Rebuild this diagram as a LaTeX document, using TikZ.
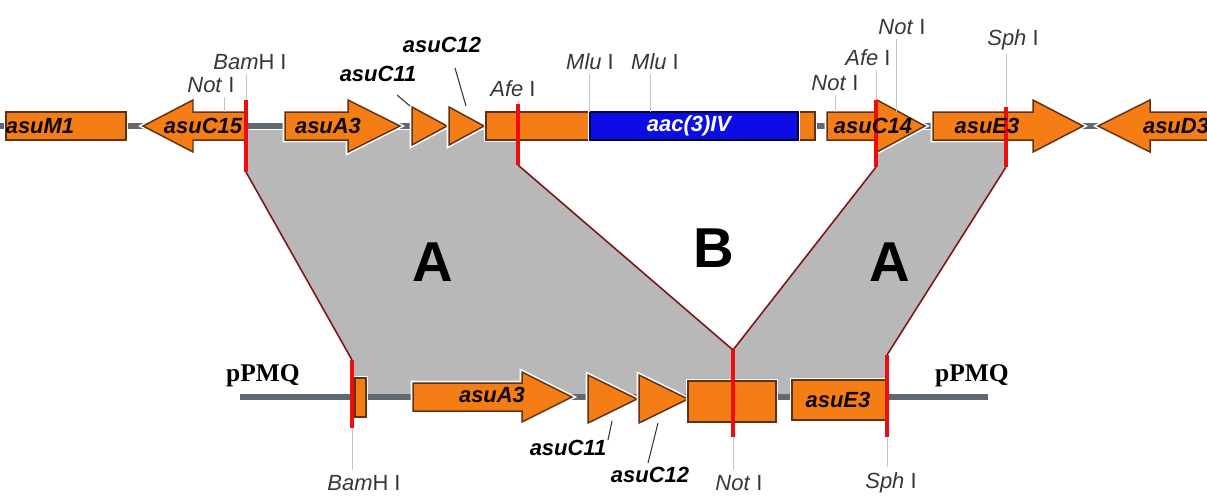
\documentclass[tikz,border=0pt]{standalone}
\usepackage{fontspec}
\setmainfont{Liberation Sans}
\newfontfamily\pmqfont{Liberation Serif}

\definecolor{geneor}{RGB}{245,125,22}
\definecolor{geneln}{RGB}{95,50,20}
\definecolor{aacblue}{RGB}{12,12,228}
\definecolor{mapgray}{RGB}{184,184,184}
\definecolor{spine}{RGB}{98,104,112}
\definecolor{cutred}{RGB}{238,12,12}
\definecolor{rimred}{RGB}{125,22,22}
\definecolor{sitetxt}{RGB}{55,55,55}

\begin{document}
\begin{tikzpicture}[x=0.02cm, y=-0.02cm,
	gene/.style={fill=geneor, draw=geneln, line width=0.85pt, preaction={draw=white, line width=2.6pt}},
	glabel/.style={font=\fontsize{12.5}{14}\selectfont\bfseries\itshape, text=black!85!geneln, inner sep=0pt},
	site/.style={font=\fontsize{12.5}{14}\selectfont, text=sitetxt, inner sep=0pt},
	tick/.style={draw=gray!45, line width=0.55pt},
	ptr/.style={draw=black!80, line width=0.6pt},
	cut/.style={draw=cutred, line width=2.7pt},
	rim/.style={draw=rimred, line width=0.9pt},
	track/.style={draw=spine, line width=3.2pt},
	big/.style={font=\fontsize{32}{36}\selectfont\bfseries, inner sep=0pt},
	vec/.style={font=\pmqfont\fontsize{14.5}{16}\selectfont\bfseries, inner sep=0pt}]
	\useasboundingbox (0,0) rectangle (1207,495);

	% cut sites (red) and track ends
	\coordinate (bamA) at (246,100);  \coordinate (bamB) at (246,172);
	\coordinate (afeA) at (518,104);  \coordinate (afeB) at (518,165);
	\coordinate (afe2A) at (876,100); \coordinate (afe2B) at (876,167);
	\coordinate (sphA) at (1006,107); \coordinate (sphB) at (1006,167);
	\coordinate (bamC) at (352,360);  \coordinate (bamD) at (352,428);
	\coordinate (notC) at (733,350);  \coordinate (notD) at (733,437);
	\coordinate (sphC) at (887,355);  \coordinate (sphD) at (887,437);
	\coordinate (topL) at (0,126);    \coordinate (topR) at (1207,126);
	\coordinate (botL) at (240,397);  \coordinate (botR) at (988,397);

	% shared regions
	\fill[mapgray] (246,130) -- (518,130) -- (afeB) -- (notC) -- (afe2B) -- (876,130) -- (1006,130)
		-- (sphB) -- (sphC) -- (887,397) -- (352,397) -- (bamC) -- (bamB) -- cycle;
	\draw[rim] (bamB) -- (bamC);
	\draw[rim] (afeB) -- (notC);
	\draw[rim] (afe2B) -- (notC);
	\draw[rim] (sphB) -- (sphC);

	\draw[track] (topL) -- (topR);
	\draw[track] (botL) -- (botR);

	% upper map
	\draw[gene] (6,112) rectangle (126,140);
	\foreach \a/\b/\c in {245/193/143, 285/348/400, 827/877/925, 933/1033/1083, 1212/1150/1098}
		\draw[gene] (\a,112) -- (\b,112) -- (\b,100) -- (\c,126) -- (\b,152) -- (\b,140) -- (\a,140) -- cycle;
	\foreach \a in {412, 449}
		\draw[gene] (\a,107) -- (\a+35,126) -- (\a,145) -- cycle;
	\draw[gene] (486,112) rectangle (590,140);
	\draw[gene] (798,112) rectangle (815,140);
	\draw[gene, fill=aacblue, draw=black!70!aacblue] (590,112) rectangle (798,140);

	% lower map
	\draw[gene] (355,378) rectangle (366,417);
	\draw[gene] (413,383) -- (522,383) -- (522,372) -- (572,397) -- (522,422) -- (522,411) -- (413,411) -- cycle;
	\foreach \a in {588, 639}
		\draw[gene] (\a,375) -- (\a+49,399) -- (\a,423) -- cycle;
	\draw[gene] (688,381) rectangle (776,422);
	\draw[gene] (792,380) rectangle (887,420);

	\foreach \p/\q in {bamA/bamB, afeA/afeB, afe2A/afe2B, sphA/sphB, bamC/bamD, notC/notD, sphC/sphD}
		\draw[cut] (\p) -- (\q);

	% gene names
	\node[glabel] (gM1) at (40,126) {asuM1};
	\node[glabel] (gC15) at (203,126) {asuC15};
	\node[glabel] (gA3) at (328,126) {asuA3};
	\node[glabel, text=white] (gAac) at (689,126) {aac(3)IV};
	\node[glabel] (gC14) at (873,126) {asuC14};
	\node[glabel] (gE3) at (987,126) {asuE3};
	\node[glabel] (gD3) at (1176,126) {asuD3};
	\node[glabel] (gA3b) at (492,395) {asuA3};
	\node[glabel] (gE3b) at (838,400) {asuE3};
	\node[glabel, text=black] (gC11) at (378,74) {asuC11};
	\node[glabel, text=black] (gC12) at (442,45) {asuC12};
	\node[glabel, text=black] (gC11b) at (568,448) {asuC11};
	\node[glabel, text=black] (gC12b) at (650,475) {asuC12};
	\coordinate (c11a) at (397,95);  \coordinate (c11b) at (410,106);
	\coordinate (c12a) at (455,68);  \coordinate (c12b) at (466,106);
	\coordinate (c11c) at (608,440); \coordinate (c11d) at (612,421);
	\coordinate (c12c) at (648,463); \coordinate (c12d) at (658,423);
	\draw[ptr] (c11a) -- (c11b);
	\draw[ptr] (c12a) -- (c12b);
	\draw[ptr] (c11c) -- (c11d);
	\draw[ptr] (c12c) -- (c12d);

	% restriction sites
	\coordinate (not1) at (224,112);
	\coordinate (mlu1) at (589,112);
	\coordinate (mlu2) at (650,112);
	\coordinate (not2) at (835,112);
	\coordinate (not3) at (896,112);
	\node[site] (sNot1) at (211,85) {\textit{Not} I};
	\node[site] (sBam) at (250,62) {\textit{Bam}H I};
	\node[site] (sAfe) at (513,89) {\textit{Afe} I};
	\node[site] (sMlu1) at (590,62) {\textit{Mlu} I};
	\node[site] (sMlu2) at (655,62) {\textit{Mlu} I};
	\node[site] (sNot2) at (835,83) {\textit{Not} I};
	\node[site] (sAfe2) at (868,58) {\textit{Afe} I};
	\node[site] (sNot3) at (902,27) {\textit{Not} I};
	\node[site] (sSph) at (1013,40) {\textit{Sph} I};
	\node[site] (sBamb) at (364,483) {\textit{Bam}H I};
	\node[site] (sNotb) at (739,483) {\textit{Not} I};
	\node[site] (sSphb) at (891,483) {\textit{Sph} I};
	\draw[tick] ([yshift=-2pt]sNot1.south -| not1) -- (not1);
	\draw[tick] ([yshift=-2pt]sBam.south -| bamA) -- (bamA);
	\draw[tick] ([yshift=-2pt]sAfe.south -| afeA) -- (afeA);
	\draw[tick] ([yshift=-2pt]sMlu1.south -| mlu1) -- (mlu1);
	\draw[tick] ([yshift=-2pt]sMlu2.south -| mlu2) -- (mlu2);
	\draw[tick] ([yshift=-2pt]sNot2.south -| not2) -- (not2);
	\draw[tick] ([yshift=-2pt]sAfe2.south -| afe2A) -- (afe2A);
	\draw[tick] ([yshift=-2pt]sNot3.south -| not3) -- (not3);
	\draw[tick] ([yshift=-2pt]sSph.south -| sphA) -- (sphA);
	\draw[tick] (bamD) -- ([yshift=3pt]sBamb.north -| bamD);
	\draw[tick] (notD) -- ([yshift=3pt]sNotb.north -| notD);
	\draw[tick] (sphD) -- ([yshift=3pt]sSphb.north -| sphD);

	% block names and vector
	\node[big] (blkA1) at (433,262) {A};
	\node[big] (blkB) at (714,248) {B};
	\node[big] (blkA2) at (890,262) {A};
	\node[vec] (pmq1) at (263,376) {pPMQ};
	\node[vec] (pmq2) at (972,376) {pPMQ};
\end{tikzpicture}
\end{document}
